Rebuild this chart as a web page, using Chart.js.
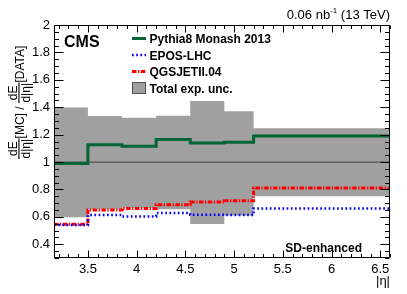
<!DOCTYPE html>
<html>
<head>
<meta charset="utf-8">
<script src="https://cdn.jsdelivr.net/npm/chart.js@4.4.0/dist/chart.umd.min.js"></script>
<style>
  html, body { margin: 0; padding: 0; background: #fff; }
  #wrap { width: 407px; height: 294px; }
</style>
</head>
<body>
<div id="wrap"><canvas id="myChart" width="407" height="294"></canvas></div>
<script>
const FONT = '"Liberation Sans", Arial, Helvetica, sans-serif';

// |eta| bin edges
const binEdges = [3.152, 3.5, 3.85, 4.2, 4.55, 4.9, 5.2, 6.6];

// MC / data ratios per bin
const pythia = [0.99, 1.126, 1.115, 1.165, 1.139, 1.145, 1.19];
const epos = [0.54, 0.613, 0.603, 0.628, 0.615, 0.613, 0.662];
const qgsjet = [0.546, 0.65, 0.662, 0.688, 0.708, 0.718, 0.81];

// total experimental uncertainty band
const uncHigh = [1.398, 1.336, 1.324, 1.338, 1.445, 1.37, 1.247];
const uncLow = [0.597, 0.658, 0.666, 0.656, 0.548, 0.61, 0.75];

const xTicks = [3.5, 4, 4.5, 5, 5.5, 6, 6.5];
const yTicks = [0.4, 0.6, 0.8, 1, 1.2, 1.4, 1.6, 1.8, 2];

const green = "rgb(0,102,51)";
const blue = "rgb(0,0,255)";
const red = "rgb(255,0,0)";
const bandGray = "#a0a0a0";

// histogram steps: one point per left edge + closing point at last edge
function steps(values) {
  var pts = values.map((v, i) => ({ x: binEdges[i], y: v }));
  pts.push({ x: binEdges[binEdges.length - 1], y: values[values.length - 1] });
  return pts;
}

function lineDs(label, values, color, width, dash, order) {
  return {
    label: label,
    data: steps(values),
    stepped: "before",
    borderColor: color,
    borderWidth: width,
    borderDash: dash,
    pointRadius: 0,
    fill: false,
    order: order,
  };
}

// ROOT style frame with inner ticks on all four sides
const frameTicks = {
  id: "frameTicks",
  afterDatasetsDraw(chart) {
    const { ctx, chartArea: a, scales } = chart;
    const sx = scales.x, sy = scales.y;
    const L = Math.round(a.left) + 0.5, R = Math.round(a.right) - 0.5;
    const T = Math.round(a.top) + 0.5, B = Math.round(a.bottom) - 0.5;
    ctx.save();
    ctx.strokeStyle = "#000";
    ctx.lineWidth = 1;
    ctx.beginPath();
    ctx.rect(L, T, R - L, B - T);
    // x ticks, minor every 0.1
    for (let i = 32; i <= 66; i++) {
      const v = i / 10;
      const px = Math.round(sx.getPixelForValue(v)) + 0.5;
      const major = i % 5 === 0;
      const len = major ? 7 : 3.5;
      ctx.moveTo(px, B); ctx.lineTo(px, B - len);
      ctx.moveTo(px, T); ctx.lineTo(px, T + len);
    }
    // y ticks, minor every 0.05
    for (let i = 6; i <= 40; i++) {
      const v = i / 20;
      const py = Math.round(sy.getPixelForValue(v)) + 0.5;
      const major = i % 4 === 0;
      const len = major ? 9 : 4.5;
      ctx.moveTo(L, py); ctx.lineTo(L + len, py);
      ctx.moveTo(R, py); ctx.lineTo(R - len, py);
    }
    ctx.stroke();
    ctx.restore();
  },
};

function drawFrac(ctx, u, num, den) {
  ctx.font = "12px " + FONT;
  const w = Math.max(ctx.measureText(num).width, ctx.measureText(den).width) + 1;
  ctx.textAlign = "center";
  ctx.fillText(num, u + w / 2, -2);
  ctx.fillText(den, u + w / 2, 10.5);
  ctx.fillRect(u, -0.6, w, 1.1);
  return w;
}

const annotations = {
  id: "annotations",
  afterDraw(chart) {
    const { ctx, chartArea: a } = chart;
    ctx.save();
    ctx.fillStyle = "#000";
    ctx.textBaseline = "alphabetic";

    // top right lumi text
    ctx.font = "13px " + FONT;
    const p1 = "0.06 nb", p3 = " (13 TeV)";
    const w1 = ctx.measureText(p1).width, w3 = ctx.measureText(p3).width;
    ctx.font = "8px " + FONT;
    const w2 = ctx.measureText("-1").width;
    let x = a.right - (w1 + w2 + w3);
    ctx.textAlign = "left";
    ctx.font = "13px " + FONT;
    ctx.fillText(p1, x, 18.5);
    ctx.font = "8px " + FONT;
    ctx.fillText("-1", x + w1, 13);
    ctx.font = "13px " + FONT;
    ctx.fillText(p3, x + w1 + w2, 18.5);

    // CMS label
    ctx.font = "bold 16px " + FONT;
    ctx.fillText("CMS", 64, 47);

    // legend
    const rows = [38.5, 55, 71.5, 88];
    const ds = chart.data.datasets;
    const items = [ds[5], ds[4], ds[3]];
    ctx.font = "bold 12px " + FONT;
    items.forEach((d, i) => {
      ctx.save();
      ctx.strokeStyle = d.borderColor;
      ctx.lineWidth = d.borderWidth;
      ctx.setLineDash(d.borderDash || []);
      ctx.beginPath();
      ctx.moveTo(132, rows[i]);
      ctx.lineTo(146, rows[i]);
      ctx.stroke();
      ctx.restore();
      ctx.fillText(d.label, 149.5, rows[i] + 4.5);
    });
    ctx.fillStyle = bandGray;
    ctx.fillRect(132, rows[3] - 6, 14, 12);
    ctx.strokeStyle = "#555";
    ctx.lineWidth = 1;
    ctx.strokeRect(132.5, rows[3] - 5.5, 13, 11);
    ctx.fillStyle = "#000";
    ctx.fillText(ds[0].label, 149.5, rows[3] + 4.5);

    // SD-enhanced
    ctx.textAlign = "right";
    ctx.fillText("SD-enhanced", 362, 252);

    // x axis title
    ctx.font = "13px " + FONT;
    ctx.fillText("|\u03b7|", a.right, 285);

    // y axis title, rotated
    ctx.translate(19, 159);
    ctx.rotate(-Math.PI / 2);
    ctx.textAlign = "left";
    let u = 0;
    u += drawFrac(ctx, u, "dE", "d|\u03b7|");
    ctx.font = "12px " + FONT;
    ctx.textAlign = "left";
    ctx.fillText("[MC] / ", u, 4.5);
    u += ctx.measureText("[MC] / ").width;
    u += drawFrac(ctx, u, "dE", "d|\u03b7|");
    ctx.font = "12px " + FONT;
    ctx.textAlign = "left";
    ctx.fillText("[DATA]", u, 4.5);
    ctx.restore();
  },
};

const ctx = document.getElementById("myChart").getContext("2d");
const myChart = new Chart(ctx, {
  type: "line",
  data: {
    datasets: [
      {
        label: "Total exp. unc.",
        data: steps(uncHigh),
        stepped: "before",
        borderColor: "rgba(0,0,0,0)",
        borderWidth: 0,
        backgroundColor: bandGray,
        pointRadius: 0,
        fill: "+1",
        order: 10,
      },
      {
        label: "low",
        data: steps(uncLow),
        stepped: "before",
        borderColor: "rgba(0,0,0,0)",
        borderWidth: 0,
        pointRadius: 0,
        fill: false,
        order: 9,
      },
      {
        label: "unity",
        data: [{ x: binEdges[0], y: 1 }, { x: binEdges[binEdges.length - 1], y: 1 }],
        borderColor: "#555",
        borderWidth: 1.3,
        pointRadius: 0,
        fill: false,
        order: 5,
      },
      lineDs("QGSJETII.04", qgsjet, red, 3, [4.5, 1.5, 1.3, 1.5], 3),
      lineDs("EPOS-LHC", epos, blue, 2.5, [1.7, 2.5], 2),
      lineDs("Pythia8 Monash 2013", pythia, green, 3, [], 1),
    ],
  },
  options: {
    responsive: false,
    animation: false,
    layout: { padding: { top: 25, right: 17, left: 0, bottom: 0 } },
    plugins: {
      legend: { display: false },
      tooltip: { enabled: false },
    },
    scales: {
      x: {
        type: "linear",
        min: binEdges[0],
        max: binEdges[binEdges.length - 1],
        grid: { display: false, drawTicks: false },
        border: { display: false },
        afterBuildTicks: (s) => { s.ticks = xTicks.map((v) => ({ value: v })); },
        afterFit: (s) => { s.height = 36; },
        ticks: {
          autoSkip: false,
          maxRotation: 0,
          padding: 4,
          color: "#000",
          font: { family: FONT, size: 13 },
          callback: (v) => String(+Number(v).toFixed(2)),
        },
      },
      y: {
        type: "linear",
        min: 0.3,
        max: 2,
        grid: { display: false, drawTicks: false },
        border: { display: false },
        afterBuildTicks: (s) => { s.ticks = yTicks.map((v) => ({ value: v })); },
        afterFit: (s) => { s.width = 54; },
        ticks: {
          padding: 4,
          color: "#000",
          font: { family: FONT, size: 13 },
          callback: (v) => String(+Number(v).toFixed(2)),
        },
      },
    },
  },
  plugins: [frameTicks, annotations],
});
</script>
</body>
</html>
